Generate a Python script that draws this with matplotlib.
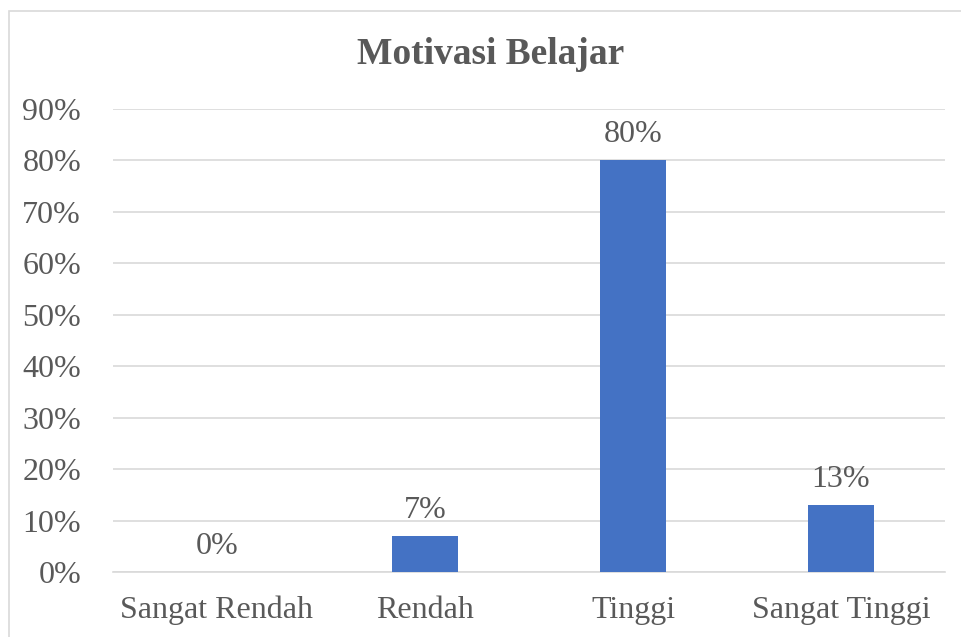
import matplotlib
matplotlib.use("Agg")
import matplotlib.pyplot as plt
from matplotlib.patches import Rectangle

categories = ["Sangat Rendah", "Rendah", "Tinggi", "Sangat Tinggi"]
values = [0, 7, 80, 13]
labels = ["0%", "7%", "80%", "13%"]
yticks = [0, 10, 20, 30, 40, 50, 60, 70, 80, 90]

plt.rcParams['font.family'] = ['Liberation Serif', 'DejaVu Serif']
W, H = 962, 637
fig = plt.figure(figsize=(W/100, H/100), dpi=100)
# chart border
fig.patches.append(Rectangle((8.5/W, -0.1), 1.2, (H-11)/H + 0.1, transform=fig.transFigure,
                             fill=False, edgecolor='#d9d9d9', linewidth=1.2))
x0, x1 = 113, 945
y0, y1 = 572, 109
ax = fig.add_axes([x0/W, 1 - y0/H, (x1-x0)/W, (y0-y1)/H])
txt = '#595959'
fs = 23
ax.bar(range(len(categories)), values, width=0.315, color='#4472c4', zorder=3)
ax.set_xlim(-0.5, len(categories)-0.5)
ax.set_ylim(0, 90)
ax.set_yticks(yticks)
ax.set_yticklabels([f"{v}%" for v in yticks], fontsize=fs, color=txt)
ax.set_xticks(range(len(categories)))
ax.set_xticklabels(categories, fontsize=fs, color=txt)
ax.tick_params(axis='both', length=0)
ax.tick_params(axis='y', pad=23)
ax.tick_params(axis='x', pad=17)
ax.grid(axis='y', color='#d9d9d9', linewidth=1.2, zorder=0)
for s in ['top', 'right', 'left']:
    ax.spines[s].set_visible(False)
ax.spines['bottom'].set_color('#d9d9d9')
ax.spines['bottom'].set_linewidth(1.2)
for i, (v, l) in enumerate(zip(values, labels)):
    ax.annotate(l, (i, v), xytext=(0, 8), textcoords='offset points', ha='center', va='bottom',
                fontsize=fs, color=txt)
fig.text(491/W, 1 - 55/H, "Motivasi Belajar", ha='center', va='center', fontsize=27,
         fontweight='bold', color=txt)
fig.savefig("out.png", dpi=100)
